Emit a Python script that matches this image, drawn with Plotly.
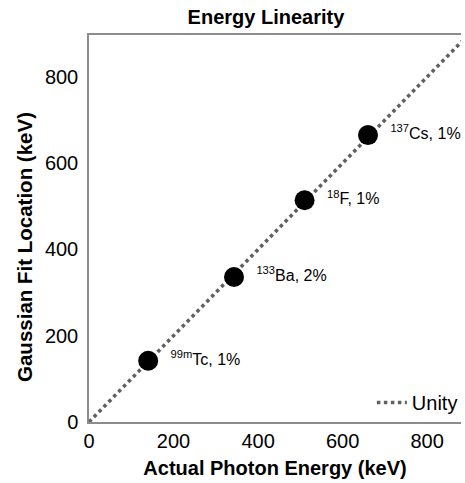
import plotly.graph_objects as go

# Data
isotopes = ["<sup>99m</sup>Tc, 1%", "<sup>133</sup>Ba, 2%", "<sup>18</sup>F, 1%", "<sup>137</sup>Cs, 1%"]
actual_kev = [140, 343, 510, 660]
fit_kev = [142, 336, 514, 665]
unity_x = [0, 900]
unity_y = [0, 900]
x_ticks = [0, 200, 400, 600, 800]
y_ticks = [0, 200, 400, 600, 800]

FONT = "Liberation Sans, Arial, sans-serif"
NB = "\u00a0\u00a0"

fig = go.Figure()
fig.add_trace(go.Scatter(
    x=unity_x, y=unity_y, mode="lines", name="Unity",
    line=dict(color="#606060", width=3.5, dash="dot"),
    showlegend=True,
))
fig.add_trace(go.Scatter(
    x=actual_kev, y=fit_kev, mode="markers+text",
    marker=dict(color="black", size=20),
    text=[NB + t for t in isotopes], textposition="middle right",
    textfont=dict(family=FONT, size=16, color="black"),
    showlegend=False, cliponaxis=False,
))

fig.update_layout(
    width=465, height=483,
    margin=dict(l=89, r=2, t=35, b=61),
    paper_bgcolor="white", plot_bgcolor="white",
    font=dict(family=FONT, color="black"),
    title=dict(text="<b>Energy Linearity</b>", x=0.572, xref="container",
               y=0.965, yref="container", xanchor="center", yanchor="middle",
               font=dict(family=FONT, size=20, color="black")),
    legend=dict(x=1.005, y=0.0, xanchor="right", yanchor="bottom",
                bgcolor="rgba(0,0,0,0)", font=dict(family=FONT, size=20, color="black"),
                itemwidth=30),
    annotations=[dict(
        text="<b>Gaussian Fit Location (keV)</b>", textangle=-90,
        xref="paper", yref="paper", x=-0.175, y=0.452,
        xanchor="center", yanchor="middle", showarrow=False,
        font=dict(family=FONT, size=20.5, color="black"),
    )],
)
fig.update_xaxes(
    range=[0, 880], tickvals=x_ticks, showgrid=False, zeroline=False,
    showline=True, linecolor="#8c8c8c", linewidth=1.5, mirror=True,
    ticks="", tickfont=dict(family=FONT, size=20, color="black"),
    title=dict(text="<b>Actual Photon Energy (keV)</b>", standoff=10,
               font=dict(family=FONT, size=20, color="black")),
)
fig.update_yaxes(
    range=[0, 897], tickvals=y_ticks, showgrid=False, zeroline=False,
    showline=True, linecolor="#8c8c8c", linewidth=1.5,
    ticks="", ticklabelstandoff=5, tickfont=dict(family=FONT, size=20, color="black"),
)

fig.write_html("out.html")
